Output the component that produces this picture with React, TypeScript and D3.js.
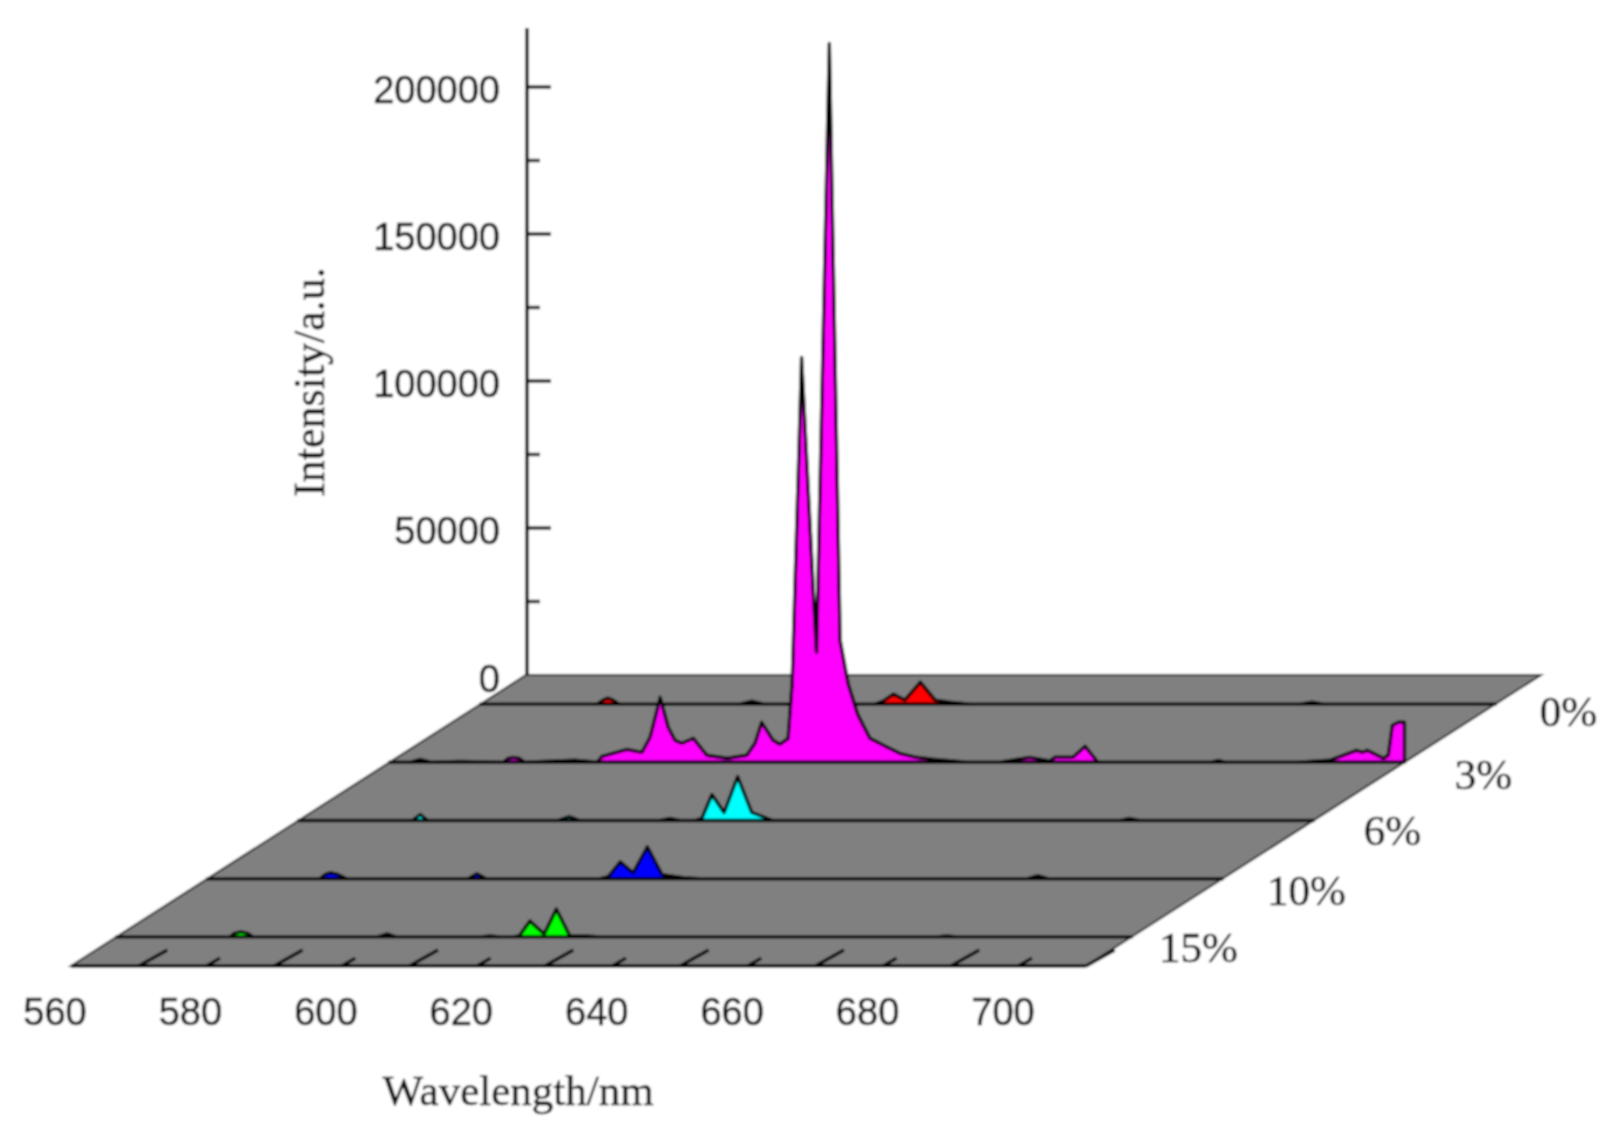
import * as d3 from "d3";

const WIDTH = 1617;
const HEIGHT = 1145;

// front edge of the floor and the shift to its back edge, in px
const FRONT_LEFT = 71;
const FRONT_RIGHT = 1086;
const FRONT_Y = 966;
const DEPTH_X = 455;
const DEPTH_Y = 291;
const PX_PER_UNIT = 147 / 50000;

const dopings = ["15%", "10%", "6%", "3%", "0%"];
const fillColors = ["#00ff00", "#0000ff", "#00ffff", "#ff00ff", "#ff0000"];

const waveTicks = [560, 580, 600, 620, 640, 660, 680, 700];
const waveMinorTicks = [570, 590, 610, 630, 650, 670, 690];
const intensityTicks = [0, 50000, 100000, 150000, 200000];
const intensityMinorTicks = [25000, 75000, 125000, 175000];

const wave15 = [550, 566.8, 567.4, 568.4, 569.4, 570.2, 588.6, 590, 591.3, 603.7, 605.2, 606.7, 608.6, 609.5, 611.1, 613.2, 615, 617, 619.4, 621.5, 671.2, 672.7, 674.2, 700];
const int15 = [0, 0, 1200, 1700, 1200, 0, 0, 1020, 0, 0, 340, 0, 0, 340, 5440, 1020, 9520, 340, 340, 0, 0, 340, 0, 0];

const wave10 = [550, 566.6, 567.4, 568.2, 569.2, 570.6, 588.5, 589.8, 591.2, 608, 609.2, 611, 612.9, 615, 617.2, 620.3, 622.8, 671.2, 672.7, 674.2, 700];
const int10 = [0, 0, 1500, 2040, 1500, 0, 0, 1700, 0, 0, 680, 5780, 2040, 10880, 1360, 340, 0, 0, 1020, 0, 0];

const wave6 = [550, 566.8, 568, 569.1, 588.3, 590, 591.6, 603.4, 604.9, 606.4, 608.6, 609.6, 611.1, 612.9, 614.9, 617, 618.6, 620.1, 671.4, 672.8, 674.3, 700];
const int6 = [0, 0, 2040, 0, 0, 1360, 0, 0, 680, 0, 0, 680, 8840, 2720, 14960, 2720, 1360, 0, 0, 680, 0, 0];

const wave3 = [
  550, 553, 554.5, 556.3, 560.4, 566.8, 567.5, 568.3, 569.2, 570, 577.4, 580.7, 581.4, 585.1, 587.3, 588.5, 590, 591.2,
  592.2, 593.2, 594.9, 596.9, 599.9, 602.8, 604, 605, 606.7, 607.7, 608.9, 609.5, 610.9, 613.1, 615,
  616.6, 617.8, 619.2, 621, 623, 625.4, 627.8, 630.3, 635.3, 640.2, 644.6, 647.6, 648.3, 651, 652.8, 654.7, 671.3,
  672.5, 673.6, 684.3, 688.9, 691.7, 692.9, 693.8, 694.5, 696.9, 697.6, 698.2, 699.1, 700,
];
const int3 = [
  0, 0, 1000, 0, 300, 0, 1300, 1700, 1300, 0, 700, 0, 2040, 4420, 3400, 8500, 22100, 11900,
  7480, 6460, 8160, 2380, 1360, 2380, 6460, 13600, 7480, 6120, 8160, 26860, 137700, 37400, 244500,
  41480, 26600, 16300, 8160, 5780, 3060, 1700, 1020, 0, 0, 1700, 510, 1700, 1700, 5440, 0, 0,
  680, 0, 0, 680, 3060, 4080, 3400, 4080, 1360, 2380, 12580, 13600, 13600,
];

const wave0 = [550, 567.2, 568.1, 568.8, 569.6, 570.5, 588.3, 590.1, 591.9, 608.3, 609.5, 611, 612.7, 615, 617.2, 619.4, 622.3, 671.1, 672.9, 674.6, 700];
const int0 = [0, 0, 1360, 2040, 1360, 0, 0, 1020, 0, 0, 1020, 3400, 1360, 7480, 1360, 680, 0, 0, 680, 0, 0];

const waves = [wave15, wave10, wave6, wave3, wave0];
const intensities = [int15, int10, int6, int3, int0];

const xScale = d3.scaleLinear().domain([550, 700]).range([FRONT_LEFT, FRONT_RIGHT]);
const yScale = d3.scaleLinear().domain([0, 100000]).range([FRONT_Y, FRONT_Y - 100000 * PX_PER_UNIT]);
const depthScale = d3.scalePoint<string>().domain(dopings).range([0, 1]).padding(0.5);
// tick labels sit under the floor, shifted down the depth direction
const waveLabelScale = d3.scaleLinear().domain([560, 700]).range([55, 1003]);

const projectX = (w: number, t: number) => xScale(w) + t * DEPTH_X;
const projectY = (v: number, t: number) => yScale(v) - t * DEPTH_Y;

// hand nudges for the percent labels, same order as dopings
const labelNudgeX = [67, 84, 79, 79, 73];
const labelNudgeY = [25, 26, 24, 27, 22];

const ARIAL = "'Liberation Sans', Arial, sans-serif";
const TIMES = "'Liberation Serif', 'Times New Roman', serif";
const textStyle = { fill: "#111", stroke: "#111", strokeWidth: 0.5 };

export default function App() {
  const axisX = projectX(550, 1) + 1;
  const axisBase = projectY(0, 1);
  const axisTop = 28;

  const floor = [
    [projectX(550, 0), projectY(0, 0)],
    [projectX(700, 0), projectY(0, 0)],
    [projectX(700, 1), projectY(0, 1)],
    [projectX(550, 1), projectY(0, 1)],
  ] as [number, number][];

  const series = dopings.map((name, s) => {
    const t = depthScale(name) ?? 0;
    const pts = waves[s].map((w, i) => [w, intensities[s][i]] as [number, number]);
    const area = d3
      .area<[number, number]>()
      .x((d) => projectX(d[0], t))
      .y0(projectY(0, t))
      .y1((d) => projectY(d[1], t));
    return (
      <path
        key={name}
        d={area(pts) ?? ""}
        fill={fillColors[s]}
        stroke="#000"
        strokeWidth={3.4}
        strokeLinejoin="round"
      />
    );
  });

  return (
    <svg
      width={WIDTH}
      height={HEIGHT}
      style={{ position: "absolute", left: 0, top: 0, background: "#fff" }}
    >
      <defs>
        <filter id="soft" x="0" y="0" width="100%" height="100%">
          <feGaussianBlur stdDeviation="0.8" />
        </filter>
      </defs>
      <g filter="url(#soft)">
        <rect width={WIDTH} height={HEIGHT} fill="#fff" />
        <polygon points={floor.map((p) => p.join(",")).join(" ")} fill="#808080" stroke="#222" strokeWidth={2} />
        <line x1={floor[0][0]} x2={floor[1][0]} y1={FRONT_Y} y2={FRONT_Y} stroke="#000" strokeWidth={3.4} />

        <line x1={axisX} x2={axisX} y1={axisBase} y2={axisTop} stroke="#111" strokeWidth={3.6} />
        {intensityTicks.map((v) => (
          <g key={v}>
            {v > 0 && (
              <line x1={axisX} x2={axisX + 24} y1={projectY(v, 1)} y2={projectY(v, 1)} stroke="#111" strokeWidth={3.4} />
            )}
            <text
              x={500}
              y={projectY(v, 1) + (v === 0 ? 17 : 16)}
              textAnchor="end"
              fontFamily={ARIAL}
              fontSize={38}
              {...textStyle}
            >
              {v}
            </text>
          </g>
        ))}
        {intensityMinorTicks.map((v) => (
          <line key={v} x1={axisX} x2={axisX + 13} y1={projectY(v, 1)} y2={projectY(v, 1)} stroke="#111" strokeWidth={3.4} />
        ))}

        {waveTicks.map((w) => (
          <g key={w}>
            <line
              x1={projectX(w, 0)}
              x2={projectX(w, 0.063)}
              y1={projectY(0, 0)}
              y2={projectY(0, 0.055)}
              stroke="#000"
              strokeWidth={3.2}
            />
            <text x={waveLabelScale(w)} y={1025} textAnchor="middle" fontFamily={ARIAL} fontSize={38} {...textStyle}>
              {w}
            </text>
          </g>
        ))}
        {waveMinorTicks.map((w) => (
          <line
            key={w}
            x1={projectX(w, 0)}
            x2={projectX(w, 0.03)}
            y1={projectY(0, 0)}
            y2={projectY(0, 0.027)}
            stroke="#000"
            strokeWidth={3.2}
          />
        ))}

        {[...series].reverse()}

        {dopings.map((name, s) => {
          const t = depthScale(name) ?? 0;
          return (
            <text
              key={name}
              x={projectX(700, t) + labelNudgeX[s]}
              y={projectY(0, t) + labelNudgeY[s]}
              textAnchor="middle"
              fontFamily={TIMES}
              fontSize={43}
              {...textStyle}
            >
              {name}
            </text>
          );
        })}

        <text x={518} y={1105} textAnchor="middle" fontFamily={TIMES} fontSize={43} {...textStyle}>
          Wavelength/nm
        </text>
        <text
          transform="translate(324,382) rotate(-90)"
          textAnchor="middle"
          fontFamily={TIMES}
          fontSize={44}
          {...textStyle}
        >
          Intensity/a.u.
        </text>
      </g>
    </svg>
  );
}
